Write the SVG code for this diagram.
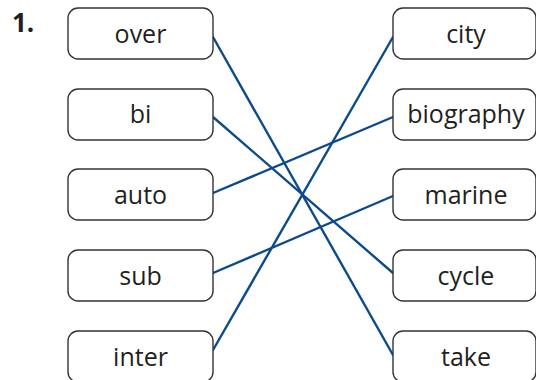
<svg xmlns="http://www.w3.org/2000/svg" width="536" height="380" viewBox="0 0 536 380">
<style>
.box{fill:#fff;stroke:#333;stroke-width:1.4}
.lbl{font-family:"Open Sans","DejaVu Sans",sans-serif;font-size:25px;fill:#231f20;text-anchor:middle}
.ln{stroke:#0d4a8c;stroke-width:2.4;fill:none;stroke-linecap:round}
</style>
<rect width="536" height="380" fill="#fff"/>
<text x="12" y="32" font-family="'Open Sans','DejaVu Sans',sans-serif" font-weight="bold" font-size="26" fill="#231f20">1.</text>
<g id="connectors">
<line class="ln" x1="213" y1="37" x2="393" y2="355"/>
<line class="ln" x1="213" y1="117" x2="393" y2="273"/>
<line class="ln" x1="213" y1="193" x2="393" y2="117"/>
<line class="ln" x1="213" y1="273" x2="393" y2="196"/>
<line class="ln" x1="213" y1="350" x2="393" y2="37"/>
</g>
<g id="over"><rect class="box" x="68" y="8" width="145" height="51" rx="10"/><text class="lbl" x="140.5" y="43">over</text></g>
<g id="bi"><rect class="box" x="68" y="89" width="145" height="51" rx="10"/><text class="lbl" x="140.5" y="123">bi</text></g>
<g id="auto"><rect class="box" x="68" y="169" width="145" height="51" rx="10"/><text class="lbl" x="140.5" y="204">auto</text></g>
<g id="sub"><rect class="box" x="68" y="250" width="145" height="51" rx="10"/><text class="lbl" x="140.5" y="285">sub</text></g>
<g id="inter"><rect class="box" x="68" y="331" width="145" height="51" rx="10"/><text class="lbl" x="140.5" y="366">inter</text></g>
<g id="city"><rect class="box" x="393" y="8" width="143" height="51" rx="10"/><text class="lbl" x="466" y="43">city</text></g>
<g id="biography"><rect class="box" x="393" y="89" width="143" height="51" rx="10"/><text class="lbl" x="466" y="123">biography</text></g>
<g id="marine"><rect class="box" x="393" y="169" width="143" height="51" rx="10"/><text class="lbl" x="466" y="204">marine</text></g>
<g id="cycle"><rect class="box" x="393" y="250" width="143" height="51" rx="10"/><text class="lbl" x="466" y="285">cycle</text></g>
<g id="take"><rect class="box" x="393" y="331" width="143" height="51" rx="10"/><text class="lbl" x="466" y="366">take</text></g>
</svg>
